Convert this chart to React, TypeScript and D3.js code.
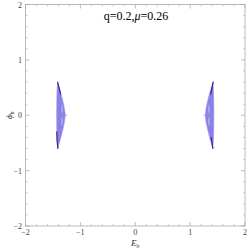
import React from "react";
import * as d3 from "d3";

// chart data
const title = "q=0.2,";
const titleMu = "0.26";
const majorTicks = [-2, -1, 0, 1, 2];
const minorStep = 0.2;

// outer boundary of the left region [E_b, phi_b]
const leftOuter: [number, number][] = [
  [-1.415, 0.6], [-1.385, 0.5], [-1.35, 0.38], [-1.315, 0.24], [-1.29, 0.12], [-1.275, 0],
  [-1.29, -0.12], [-1.315, -0.24], [-1.35, -0.38], [-1.385, -0.5], [-1.41, -0.6],
  [-1.425, -0.45], [-1.43, -0.25], [-1.432, 0], [-1.43, 0.25], [-1.425, 0.45],
];
// dark contour pieces near the tips
const leftDark: [number, number][][] = [
  [[-1.415, 0.6], [-1.39, 0.5], [-1.36, 0.38]],
  [[-1.41, -0.6], [-1.425, -0.45], [-1.43, -0.3]],
];
// lighter inner lobes
const leftLobes: [number, number][][] = [
  [[-1.33, 0.02], [-1.315, 0.08], [-1.32, 0.16], [-1.335, 0.2], [-1.35, 0.15], [-1.35, 0.06]],
  [[-1.33, -0.02], [-1.315, -0.08], [-1.32, -0.16], [-1.335, -0.2], [-1.35, -0.15], [-1.35, -0.06]],
];
const leftAxisLine: [number, number][] = [[-1.43, 0], [-1.24, 0]];

const rightOuter: [number, number][] = leftOuter.map(([x, y]) => [-x, y]);
const rightDark: [number, number][][] = [
  [[1.42, 0.6], [1.4, 0.5], [1.375, 0.38]],
  [[1.415, -0.6], [1.4, -0.5], [1.38, -0.4]],
];
const rightLobes: [number, number][][] = leftLobes.map((p) => p.map(([x, y]) => [-x + 0.01, y] as [number, number]));
const rightAxisLine: [number, number][] = [[1.24, 0], [1.43, 0]];

const W = 249;
const H = 251;
const font = "'Liberation Serif', 'DejaVu Serif', serif";

export default function App() {
  const x = d3.scaleLinear().domain([-2, 2]).range([25.5, 245]);
  const y = d3.scaleLinear().domain([-2, 2]).range([226, 4.5]);
  const line = d3.line<[number, number]>().x((d) => x(d[0])).y((d) => y(d[1]));
  const closed = d3
    .line<[number, number]>()
    .x((d) => x(d[0]))
    .y((d) => y(d[1]))
    .curve(d3.curveLinearClosed);
  const minor = d3.range(-2, 2.0001, minorStep).filter((v) => Math.abs(v - Math.round(v)) > 1e-6);
  const [x0, x1] = x.range();
  const [y0, y1] = y.range();
  const tickColor = "#aaaaaa";

  const region = (outer: [number, number][], dark: [number, number][][], lobes: [number, number][][], axis: [number, number][], key: string) => (
    <g key={key}>
      <path d={closed(outer) || ""} fill="#8b80ea" stroke="#9c92ee" strokeWidth={0.6} />
      {lobes.map((l, i) => (
        <path key={i} d={closed(l) || ""} fill="#a9aae6" />
      ))}
      <path d={line(axis) || ""} stroke="#9a9aa8" strokeWidth={0.7} fill="none" />
      {dark.map((d, i) => (
        <path key={i} d={line(d) || ""} stroke="#3d1a80" strokeWidth={1.1} fill="none" strokeLinecap="round" />
      ))}
    </g>
  );

  return (
    <svg width={W} height={H} style={{ position: "absolute", left: 0, top: 0, background: "#fff" }}>
      {/* frame */}
      <rect x={x0} y={y1} width={x1 - x0} height={y0 - y1} fill="none" stroke={tickColor} strokeWidth={0.8} />
      {/* ticks */}
      {majorTicks.map((t) => (
        <g key={"M" + t} stroke={tickColor} strokeWidth={0.8}>
          <line x1={x(t)} x2={x(t)} y1={y0} y2={y0 - 4} />
          <line x1={x(t)} x2={x(t)} y1={y1} y2={y1 + 4} />
          <line x1={x0} x2={x0 + 4} y1={y(t)} y2={y(t)} />
          <line x1={x1} x2={x1 - 4} y1={y(t)} y2={y(t)} />
        </g>
      ))}
      {minor.map((t) => (
        <g key={"m" + t} stroke={tickColor} strokeWidth={0.6}>
          <line x1={x(t)} x2={x(t)} y1={y0} y2={y0 - 2} />
          <line x1={x(t)} x2={x(t)} y1={y1} y2={y1 + 2} />
          <line x1={x0} x2={x0 + 2} y1={y(t)} y2={y(t)} />
          <line x1={x1} x2={x1 - 2} y1={y(t)} y2={y(t)} />
        </g>
      ))}
      {/* tick labels */}
      {majorTicks.map((t) => (
        <text key={"xl" + t} x={x(t)} y={235} textAnchor="middle" fontFamily={font} fontSize={8} fill="#444">
          {t < 0 ? "\u2212" + Math.abs(t) : t}
        </text>
      ))}
      {majorTicks.map((t) => (
        <text key={"yl" + t} x={22} y={y(t) + 3} textAnchor="end" fontFamily={font} fontSize={8} fill="#444">
          {t < 0 ? "\u2212" + Math.abs(t) : t}
        </text>
      ))}
      {/* axis labels */}
      <text x={x(0)} y={246} textAnchor="middle" fontFamily={font} fontSize={9} fill="#333">
        <tspan fontStyle="italic">E</tspan>
        <tspan fontSize={6} dy={2}>b</tspan>
      </text>
      <text transform={`translate(12,${y(0)}) rotate(-90)`} textAnchor="middle" fontFamily={font} fontSize={9} fill="#333">
        <tspan fontStyle="italic">ϕ</tspan>
        <tspan fontSize={6} dy={2}>b</tspan>
      </text>
      {/* regions */}
      {region(leftOuter, leftDark, leftLobes, leftAxisLine, "L")}
      {region(rightOuter, rightDark, rightLobes, rightAxisLine, "R")}
      {/* title */}
      <text x={136} y={20} textAnchor="middle" fontFamily={font} fontSize={12} fill="#000">
        {title}
        <tspan fontStyle="italic">μ</tspan>={titleMu}
      </text>
    </svg>
  );
}
